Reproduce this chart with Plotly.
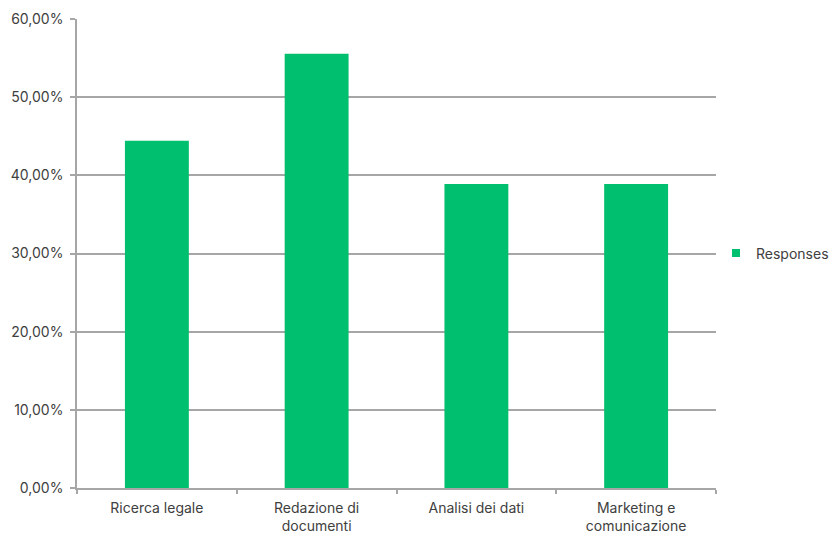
import plotly.graph_objects as go

categories = ["Ricerca legale", "Redazione di<br>documenti", "Analisi dei dati", "Marketing e<br>comunicazione"]
values = [0.4444, 0.5556, 0.3889, 0.3889]
series_name = "Responses"
green = "#00BF6F"

fig = go.Figure()
fig.add_trace(go.Bar(
    x=categories, y=values, name=series_name,
    marker=dict(color=green, line=dict(width=0)),
    showlegend=False,
))
# legend entry with a small square swatch
fig.add_trace(go.Scatter(
    x=[None], y=[None], mode="markers", name=series_name,
    marker=dict(symbol="square", size=8, color=green),
    showlegend=True,
))

fig.update_layout(
    width=830, height=536,
    margin=dict(l=77, r=114, t=19, b=48, autoexpand=False),
    paper_bgcolor="white", plot_bgcolor="white",
    separators=",.",
    font=dict(family="Inter, Open Sans, sans-serif", size=14, color="#404040"),
    bargap=0.6,
    showlegend=True,
    legend=dict(x=1.0, xanchor="left", y=0.5, yanchor="middle",
                font=dict(size=14, color="#404040"), itemwidth=30,
                bgcolor="rgba(0,0,0,0)"),
    xaxis=dict(
        type="category", tickson="boundaries", ticks="outside", ticklen=4,
        tickcolor="#A6A6A6", tickwidth=1.5,
        showline=True, linecolor="#A6A6A6", linewidth=1.5,
        showgrid=False, ticklabelstandoff=6, automargin=False,
    ),
    yaxis=dict(
        range=[0, 0.6], dtick=0.1, tickformat=".2%",
        showgrid=True, gridcolor="#A6A6A6", gridwidth=1.5,
        showline=True, linecolor="#A6A6A6", linewidth=1.5,
        ticks="outside", ticklen=5, tickcolor="#A6A6A6", tickwidth=1.5,
        zeroline=False, ticklabelstandoff=4, automargin=False,
    ),
)

fig.write_html("out.html")
